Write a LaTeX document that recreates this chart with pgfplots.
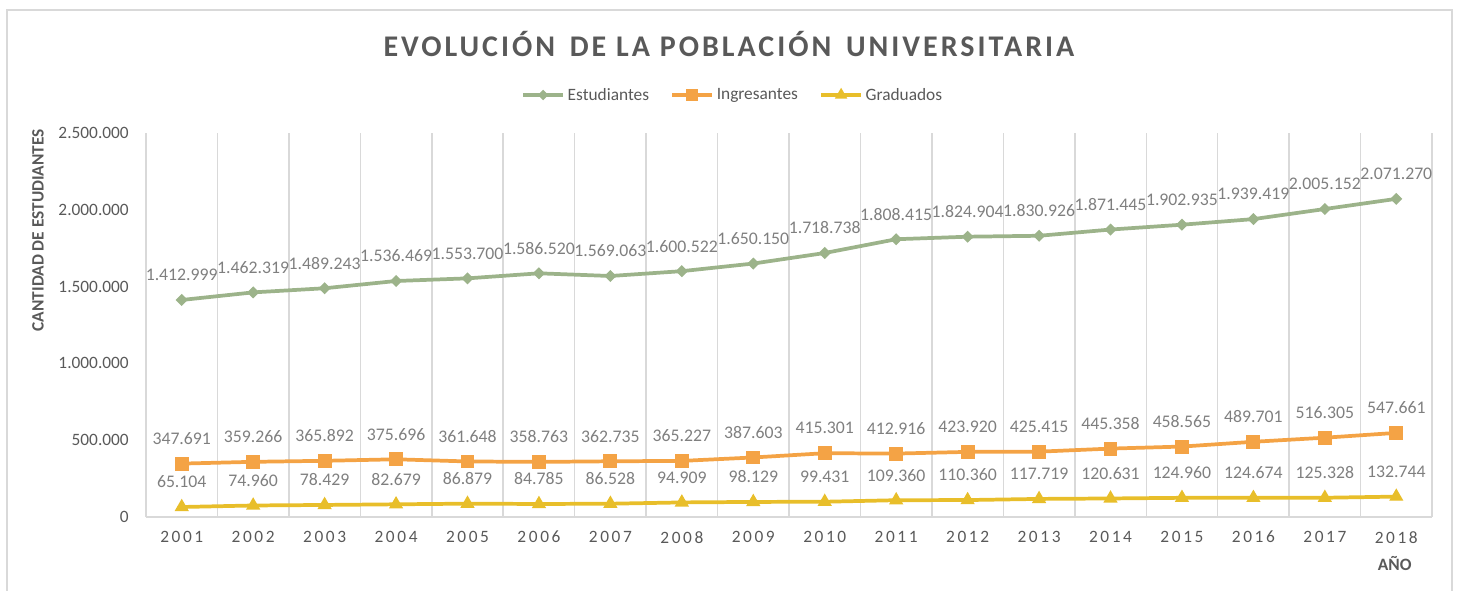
\documentclass[border=0pt]{standalone}
\usepackage{fontspec}
\setmainfont{Carlito}
\usepackage{pgfplots}
\pgfplotsset{compat=1.18}
\newfontfamily\spacedfont[LetterSpace=15]{Carlito}
\newfontfamily\titlefont[LetterSpace=10]{Carlito}
\definecolor{cgreen}{HTML}{9CB38A}
\definecolor{corange}{HTML}{F4A345}
\definecolor{cyellow}{HTML}{E8BE2A}
\definecolor{cgrid}{HTML}{D9D9D9}
\definecolor{ctext}{HTML}{595959}
\definecolor{clab}{HTML}{7F7F7F}

\pgfplotstableread{
x y lab
1 1412999 1.412.999
2 1462319 1.462.319
3 1489243 1.489.243
4 1536469 1.536.469
5 1553700 1.553.700
6 1586520 1.586.520
7 1569063 1.569.063
8 1600522 1.600.522
9 1650150 1.650.150
10 1718738 1.718.738
11 1808415 1.808.415
12 1824904 1.824.904
13 1830926 1.830.926
14 1871445 1.871.445
15 1902935 1.902.935
16 1939419 1.939.419
17 2005152 2.005.152
18 2071270 2.071.270
}\estudiantes

\pgfplotstableread{
x y lab
1 347691 347.691
2 359266 359.266
3 365892 365.892
4 375696 375.696
5 361648 361.648
6 358763 358.763
7 362735 362.735
8 365227 365.227
9 387603 387.603
10 415301 415.301
11 412916 412.916
12 423920 423.920
13 425415 425.415
14 445358 445.358
15 458565 458.565
16 489701 489.701
17 516305 516.305
18 547661 547.661
}\ingresantes

\pgfplotstableread{
x y lab
1 65104 65.104
2 74960 74.960
3 78429 78.429
4 82679 82.679
5 86879 86.879
6 84785 84.785
7 86528 86.528
8 94909 94.909
9 98129 98.129
10 99431 99.431
11 109360 109.360
12 110360 110.360
13 117719 117.719
14 120631 120.631
15 124960 124.960
16 124674 124.674
17 125328 125.328
18 132744 132.744
}\graduados

\begin{document}
\begin{tikzpicture}
\useasboundingbox (0pt,0pt) rectangle (1093.5pt,442.5pt);
\begin{axis}[
  scale only axis,
  width=964.5pt, height=288pt,
  at={(109.5pt,54.75pt)}, anchor=south west,
  xmin=0.5, xmax=18.5, ymin=0, ymax=2500000,
  clip=false,
  xtick={1,...,18},
  xticklabels={2001,2002,2003,2004,2005,2006,2007,2008,2009,2010,2011,2012,2013,2014,2015,2016,2017,2018},
  minor xtick={0.5,1.5,...,18.5},
  xminorgrids,
  minor grid style={draw=cgrid, line width=1.1pt},
  major tick length=0pt, minor tick length=0pt,
  axis x line*=bottom, axis y line*=left,
  axis line style={-},
  x axis line style={draw=cgrid, line width=1.1pt},
  y axis line style={draw=none},
  ytick={0,500000,1000000,1500000,2000000,2500000},
  yticklabels={0,500.000,1.000.000,1.500.000,2.000.000,2.500.000},
  scaled y ticks=false,
  tick label style={font=\fontsize{13}{15}\selectfont, text=ctext},
  x tick label style={font=\spacedfont\fontsize{13}{15}\selectfont, inner sep=0pt, anchor=north},
  xticklabel shift=10.5pt,
  y tick label style={inner sep=0pt, anchor=east},
  yticklabel shift=12.75pt,
  title={\titlefont\bfseries EVOLUCIÓN\, DE LA POBLACIÓN\, UNIVERSITARIA},
  title style={at={(axis description cs:0.4533,1.211)}, anchor=center, font=\fontsize{22.5}{26}\selectfont, text=ctext},
  ylabel={\bfseries CANTIDAD DE ESTUDIANTES},
  ylabel style={at={(axis description cs:-0.084,0.747)}, anchor=center, font=\fontsize{13}{15}\selectfont, text=ctext},
  xlabel={\bfseries AÑO},
  xlabel style={at={(axis description cs:0.971,-0.12)}, anchor=center, font=\fontsize{13}{15}\selectfont, text=ctext},
  legend columns=3,
  legend style={draw=none, fill=none, at={(0.4565,1.099)}, anchor=center,
    font=\fontsize{13}{15}\selectfont, text=ctext,
    /tikz/every even column/.append style={column sep=14pt}},
  legend image code/.code={\draw[#1, mark repeat=2, mark phase=2] plot coordinates {(0pt,0pt) (15pt,0pt) (30pt,0pt)};},
  legend image post style={every mark/.append style={scale=0.85}},
  point meta=explicit symbolic,
  nodes near coords,
  every node near coord/.append style={font=\fontsize{13.3}{15}\selectfont, text=clab, anchor=center, inner sep=0pt, yshift=18.75pt},
]
\addplot[color=cgreen, line width=2.8pt, mark=square*, mark size=2.7pt, mark options={rotate=45, fill=cgreen, draw=cgreen, line width=1pt}]
  table[x=x, y=y, meta=lab] {\estudiantes};
\addlegendentry{Estudiantes}
\addplot[color=corange, line width=2.8pt, mark=square*, mark size=4.7pt, mark options={fill=corange, draw=corange, line width=1pt}]
  table[x=x, y=y, meta=lab] {\ingresantes};
\addlegendentry{Ingresantes}
\addplot[color=cyellow, line width=2.8pt, mark=triangle*, mark size=5.2pt, mark options={fill=cyellow, draw=cyellow, line width=1pt}]
  table[x=x, y=y, meta=lab] {\graduados};
\addlegendentry{Graduados}
\end{axis}
\draw[cgrid, line width=1.5pt] (5.25pt,-2pt) -- (5.25pt,435pt) -- (1089pt,435pt) -- (1089pt,-2pt);
\end{tikzpicture}
\end{document}
